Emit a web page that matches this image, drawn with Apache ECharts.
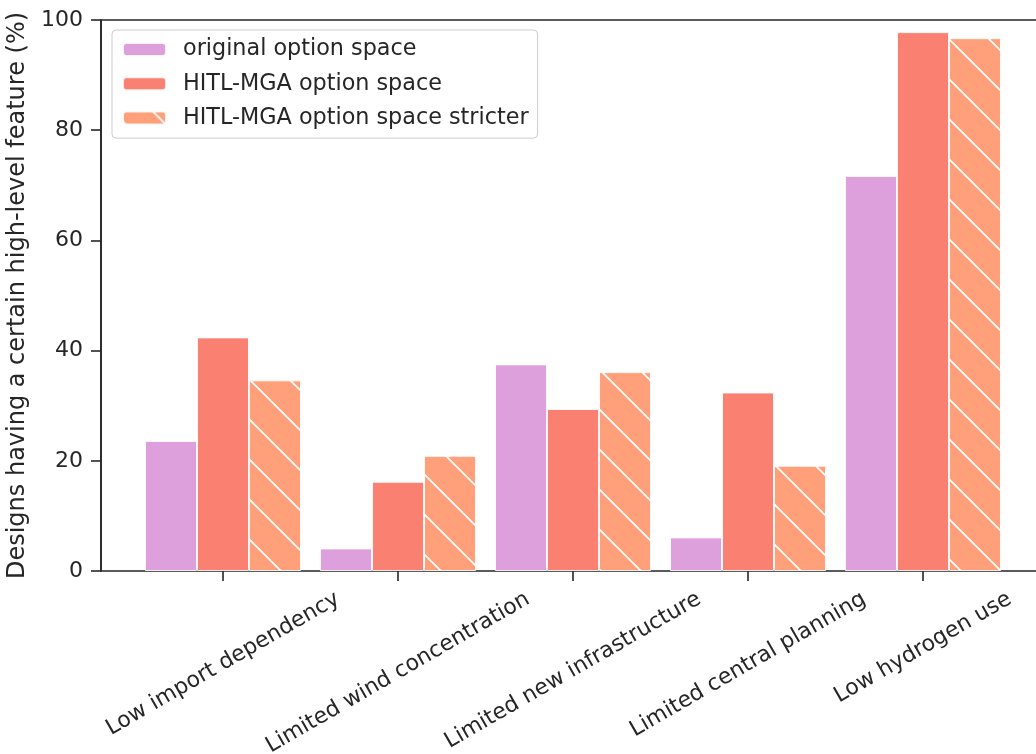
<!DOCTYPE html>
<html>
<head>
<meta charset="utf-8">
<script src="https://cdn.jsdelivr.net/npm/echarts@6/dist/echarts.min.js"></script>
<style>
  html, body { margin: 0; padding: 0; background: #ffffff; }
  #chart { width: 1036px; height: 754px; }
</style>
</head>
<body>
<div id="chart"></div>
<script>
// Share of designs showing each high-level feature, per option space
const categories = [
  'Low import dependency',
  'Limited wind concentration',
  'Limited new infrastructure',
  'Limited central planning',
  'Low hydrogen use'
];
const seriesNames = [
  'original option space',
  'HITL-MGA option space',
  'HITL-MGA option space stricter'
];
const originalSpace = [23.6, 4.1, 37.5, 6.1, 71.7];
const hitlSpace = [42.4, 16.2, 29.4, 32.4, 97.8];
const hitlStricter = [34.6, 20.9, 36.1, 19.1, 96.7];
const yTicks = { min: 0, max: 100, interval: 20 };

const INK = '#262626';
const FONT = '"DejaVu Sans", "Liberation Sans", sans-serif';
const TICK_FS = 22;
const LEGEND_FS = 22.3;
const NAME_FS = 24;

// Diagonal white hatch tile for the "stricter" bars
function hatchTile(fill) {
  const size = 40;
  const c = document.createElement('canvas');
  c.width = size; c.height = size;
  const g = c.getContext('2d');
  g.fillStyle = fill;
  g.fillRect(0, 0, size, size);
  g.strokeStyle = '#ffffff';
  g.lineWidth = 1.7;
  const off = 10;
  for (const k of [-size, 0, size]) {
    g.beginPath();
    g.moveTo(-5, -5 + off + k);
    g.lineTo(size + 5, size + 5 + off + k);
    g.stroke();
  }
  return c;
}

// Rotated category labels: centre each rotated box under its tick,
// with the box top at a fixed distance below the axis.
const ROT = 30 * Math.PI / 180;
const S = Math.sin(ROT), C = Math.cos(ROT);
const LABEL_TOP = 17;   // px from axis line to top of rotated label box
const LH = TICK_FS;
const measure = document.createElement('canvas').getContext('2d');
measure.font = TICK_FS + 'px ' + FONT;
const rich = {};
categories.forEach((name, i) => {
  const w = measure.measureText(name).width;
  const dy = LABEL_TOP + (w * S + LH * C) / 2;
  rich['c' + i] = {
    fontSize: TICK_FS,
    fontFamily: FONT,
    color: INK,
    lineHeight: LH,
    padding: [2 * dy * C, 2 * dy * S, 0, 0]
  };
});

const barStyle = {
  borderColor: 'rgba(255,255,255,0.85)',
  borderWidth: 1
};

const chart = echarts.init(document.getElementById('chart'), null, { renderer: 'canvas' });

chart.setOption({
  backgroundColor: '#ffffff',
  animation: false,
  textStyle: { fontFamily: FONT, color: INK },
  grid: [
    // frame + y axis
    { left: 101, top: 20, width: 943, height: 551, show: true,
      borderColor: INK, borderWidth: 1.6, backgroundColor: 'transparent',
      containLabel: false, outerBoundsMode: 'none' },
    // bars
    { left: 135.5, top: 20, width: 875, height: 551,
      containLabel: false, outerBoundsMode: 'none' }
  ],
  xAxis: [
    { gridIndex: 0, type: 'value', min: 0, max: 1, show: false },
    {
      gridIndex: 1, type: 'category', data: categories,
      axisLine: { show: false },
      axisTick: { show: true, alignWithLabel: true, length: 10, lineStyle: { color: INK, width: 1.6 } },
      axisLabel: {
        interval: 0, rotate: 30, margin: 0, align: 'center', verticalAlign: 'middle',
        hideOverlap: false,
        formatter: (v, i) => '{c' + i + '|' + v + '}',
        rich: rich
      },
      splitLine: { show: false }
    }
  ],
  yAxis: [
    {
      gridIndex: 0, type: 'value', min: yTicks.min, max: yTicks.max, interval: yTicks.interval,
      name: 'Designs having a certain high-level feature (%)',
      nameLocation: 'middle', nameGap: 63,
      nameTextStyle: { fontSize: NAME_FS, color: INK, fontFamily: FONT },
      axisLine: { show: true, lineStyle: { color: INK, width: 1.6 } },
      axisTick: { show: true, length: 10, lineStyle: { color: INK, width: 1.6 } },
      axisLabel: { fontSize: TICK_FS, color: INK, margin: 18, fontFamily: FONT },
      splitLine: { show: false }
    },
    { gridIndex: 1, type: 'value', min: yTicks.min, max: yTicks.max, show: false }
  ],
  legend: {
    orient: 'vertical', left: 112, top: 30,
    itemWidth: 43, itemHeight: 13, itemGap: 12.3,
    padding: [8.5, 9, 9, 10],
    backgroundColor: 'rgba(255,255,255,0.8)',
    borderColor: '#cccccc', borderWidth: 1, borderRadius: 4,
    textStyle: { fontSize: LEGEND_FS, color: INK, fontFamily: FONT, padding: [0, 0, 0, 12] },
    data: seriesNames
  },
  series: [
    { name: seriesNames[0], type: 'bar', xAxisIndex: 1, yAxisIndex: 1, data: originalSpace,
      barWidth: 52, barGap: '0%', itemStyle: Object.assign({ color: '#DDA0DD' }, barStyle) },
    { name: seriesNames[1], type: 'bar', xAxisIndex: 1, yAxisIndex: 1, data: hitlSpace,
      barWidth: 52, barGap: '0%', itemStyle: Object.assign({ color: '#FA8072' }, barStyle) },
    { name: seriesNames[2], type: 'bar', xAxisIndex: 1, yAxisIndex: 1, data: hitlStricter,
      barWidth: 52, barGap: '0%',
      itemStyle: Object.assign({ color: { image: hatchTile('#FFA07A'), repeat: 'repeat' } }, barStyle) }
  ]
});
</script>
</body>
</html>
